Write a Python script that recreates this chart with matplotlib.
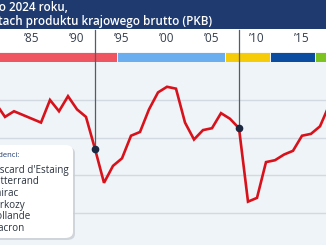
import matplotlib.pyplot as plt
from matplotlib.patches import Rectangle, FancyBboxPatch

plt.rcParams['font.family'] = ['Open Sans', 'DejaVu Sans']

# saldo budzetowe Francji, % PKB
years = list(range(1981, 2019))
saldo = [-2.2, -2.9, -2.6, -2.8, -3.0, -3.2, -2.0, -2.6, -1.8, -2.5,
         -2.9, -4.6, -6.4, -5.5, -5.1, -3.9, -3.7, -2.5, -1.6, -1.3,
         -1.4, -3.2, -4.1, -3.6, -3.5, -2.7, -3.0, -3.5, -7.4, -7.2,
         -5.3, -5.2, -4.9, -4.7, -3.9, -3.8, -3.4, -2.3]

# wydarzenia zaznaczone pionowa linia
event_years = [1992, 2008]

# kadencje prezydentow (pasek kolorow)
presidents = ["Giscard d'Estaing", "Mitterrand", "Chirac", "Sarkozy", "Hollande", "Macron"]
term_start = [1973.45, 1980.45, 1994.45, 2006.45, 2011.45, 2016.45]
term_end = [1980.45, 1994.45, 2006.45, 2011.45, 2016.45, 2024.0]
pres_colors = ['#8a8f99', '#ef5560', '#6aaef0', '#f6cc08', '#0a4ca0', '#7cc31f']

tick_years = [1985, 1990, 1995, 2000, 2005, 2010, 2015]
tick_labels = ['\u201985', '\u201990', '\u201995', '\u201900', '\u201905', '\u201910', '\u201915']

W, H = 326, 245
x0, x1 = 1981.444, 2017.667
top_px = 62.3
px_per_unit = 18.83
ybottom = -(H - top_px) / px_per_unit

fig = plt.figure(figsize=(W / 100, H / 100), dpi=100)
fig.patch.set_facecolor('white')

# naglowek
fig.patches.append(Rectangle((0, 1 - 29.5 / H), 1, 29.5 / H, transform=fig.transFigure,
                             facecolor='#1e3a6e', edgecolor='none', zorder=0))
fig.text(68 / W, 1 - 7 / H, 'Saldo budżetowe Francji od 1980 do 2024 roku,', color='white',
         fontsize=8.4, fontweight='semibold', ha='right', va='center')
fig.text(212 / W, 1 - 22 / H, 'w procentach produktu krajowego brutto (PKB)', color='white',
         fontsize=8.4, fontweight='semibold', ha='right', va='center')

# pasek prezydentow
ax_s = fig.add_axes([0, 1 - 62 / H, 1, 10 / H])
ax_s.barh(0, [e - s for s, e in zip(term_start, term_end)], left=term_start, height=1,
          color=pres_colors, edgecolor='white', linewidth=0.6)
ax_s.set_xlim(x0, x1)
ax_s.set_ylim(-0.5, 0.5)
ax_s.set_yticks([])
ax_s.xaxis.tick_top()
ax_s.set_xticks(tick_years)
ax_s.set_xticklabels(tick_labels, fontsize=8.5, color='#333d4d')
ax_s.tick_params(axis='x', length=0, pad=5)
for sp in ax_s.spines.values():
    sp.set_visible(False)

# wykres glowny
ax = fig.add_axes([0, 0, 1, (H - top_px) / H])
ax.set_facecolor('#eff4f8')
ax.set_xlim(x0, x1)
ax.set_ylim(ybottom, 0)
ax.set_yticks([-2, -4, -6, -8])
ax.set_xticks([])
ax.tick_params(axis='y', length=0, labelleft=False)
ax.grid(axis='y', color='#d3d9e0', linewidth=1)
for sp in ax.spines.values():
    sp.set_visible(False)

ax.plot(years, saldo, color='#d8121b', linewidth=1.9, zorder=3, solid_joinstyle='miter')

line_top = (top_px - 30) / px_per_unit
for ey in event_years:
    ev = saldo[years.index(ey)]
    ax.plot([ey, ey], [ev, line_top], color='#555c66', linewidth=0.9, clip_on=False, zorder=4)
    ax.plot(ey, ev, 'o', color='#1b2840', markersize=4.5, zorder=5, clip_on=False)

# legenda (przycieta z lewej strony)
shadow = FancyBboxPatch((-20 / W, 1 - 240 / H), 95 / W, 93 / H, transform=fig.transFigure,
                        boxstyle='round,pad=0,rounding_size=0.025', facecolor='#c9ced6',
                        edgecolor='none', zorder=6, alpha=0.8)
box = FancyBboxPatch((-20 / W, 1 - 238 / H), 93 / W, 93 / H, transform=fig.transFigure,
                     boxstyle='round,pad=0,rounding_size=0.025', facecolor='white',
                     edgecolor='none', zorder=7)
fig.patches.extend([shadow, box])
fig.text(20 / W, 1 - 155 / H, 'Prezydenci:', fontsize=5.5, color='#1e3a6e',
         ha='right', va='center', zorder=8)
for i, name in enumerate(presidents):
    fig.text(-10.5 / W, 1 - (170 + i * 11.7) / H, name, fontsize=7.1, color='#2b3340',
             ha='left', va='center', zorder=8)

fig.savefig('out.png', dpi=100)
